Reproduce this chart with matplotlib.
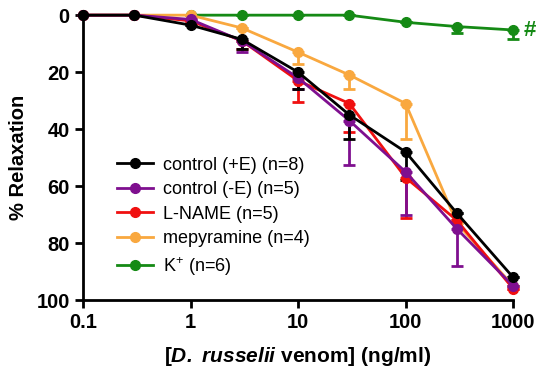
import matplotlib.pyplot as plt
import numpy as np

plt.rcParams['font.family'] = ['Liberation Sans', 'DejaVu Sans']
plt.rcParams['mathtext.fontset'] = 'custom'
plt.rcParams['mathtext.rm'] = 'Liberation Sans'
plt.rcParams['mathtext.bfit'] = 'Liberation Sans:italic:bold'

# concentrations (ng/ml)
conc = [0.1, 0.3, 1, 3, 10, 30, 100, 300, 1000]
conc_k = [1, 3, 10, 30, 100, 300, 1000]

ctrl_e = [0, 0, 3.5, 8.5, 20, 35, 48, 69.5, 92]
ctrl_e_err = [0, 0, 0, 3.5, 6, 8.5, 10, 0, 0]

ctrl_noe = [0, 0, 1.5, 9, 22, 37, 55, 75, 95]
ctrl_noe_err = [0, 0, 0, 4, 4, 15.5, 15, 13, 0]

lname = [0, 0, 2, 9, 23, 31, 57, 72, 96]
lname_err = [0, 0, 0, 3, 7.5, 10, 14, 0, 0]

mepy = [0, 0, 0, 4.5, 13, 21, 31, 73, 95]
mepy_err = [0, 0, 0, 0, 4, 5, 12.5, 0, 0]

kplus = [0, 0, 0, 0, 2.5, 4, 5.2]
kplus_err = [0, 0, 0, 0, 0, 2.3, 3.3]

fig = plt.figure(figsize=(5.5, 3.79), dpi=100)
ax = fig.add_axes([0.151, 0.208, 0.782, 0.752])

series = [
    (kplus, kplus_err, conc_k, '#158a15', 'K$^{+}$ (n=6)'),
    (mepy, mepy_err, conc, '#f9a83f', 'mepyramine (n=4)'),
    (lname, lname_err, conc, '#f01010', 'L-NAME (n=5)'),
    (ctrl_noe, ctrl_noe_err, conc, '#7f0f8f', 'control (-E) (n=5)'),
    (ctrl_e, ctrl_e_err, conc, 'black', 'control (+E) (n=8)'),
]
handles = {}
for vals, err, xs, col, lab in series:
    h = ax.errorbar(xs, vals, yerr=[np.zeros(len(err)), err], color=col,
                    marker='o', markersize=7, linewidth=2, elinewidth=2,
                    capsize=4.5, capthick=2, label=lab, clip_on=False)
    handles[lab] = h[0]

order = ['control (+E) (n=8)', 'control (-E) (n=5)', 'L-NAME (n=5)',
         'mepyramine (n=4)', 'K$^{+}$ (n=6)']
leg = ax.legend([handles[k] for k in order], order, loc='lower left',
                bbox_to_anchor=(0.04, 0.022), frameon=False, fontsize=13,
                handlelength=2.0, handletextpad=0.6, labelspacing=0.42)

ax.text(1250, 5.5, '#', color='#158a15', fontsize=16, fontweight='bold',
        va='center', ha='left')

ax.set_xscale('log')
ax.set_xlim(0.1, 1000)
ax.set_ylim(100, 0)
ax.set_xticks([0.1, 1, 10, 100, 1000])
ax.set_xticklabels(['0.1', '1', '10', '100', '1000'])
ax.minorticks_off()
ax.set_yticks([0, 20, 40, 60, 80, 100])
for s in ['top', 'right']:
    ax.spines[s].set_visible(False)
for s in ['left', 'bottom']:
    ax.spines[s].set_linewidth(2)
ax.tick_params(width=2, length=6, labelsize=14.5)
for t in ax.get_xticklabels() + ax.get_yticklabels():
    t.set_fontweight('bold')
ax.set_ylabel('% Relaxation', fontsize=14.5, fontweight='bold', labelpad=6)
ax.set_xlabel(r'[$\mathbfit{D.}$ $\mathbfit{russelii}$ venom] (ng/ml)',
              fontsize=15, fontweight='bold', labelpad=9)

fig.savefig('out.png', dpi=100)
